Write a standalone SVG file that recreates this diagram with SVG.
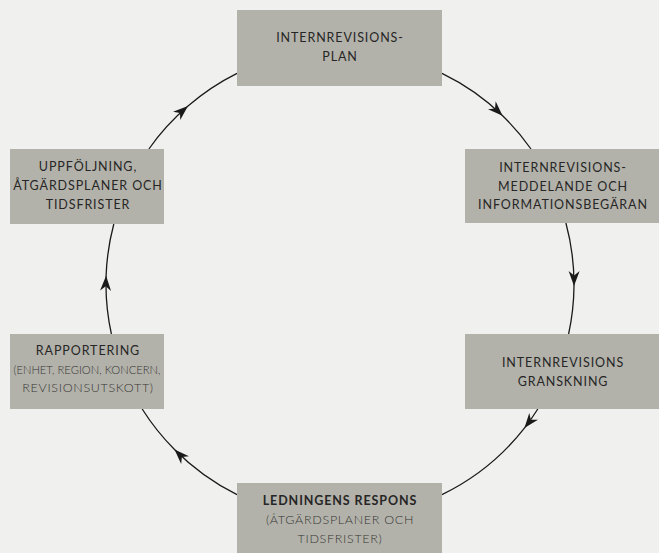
<svg xmlns="http://www.w3.org/2000/svg" width="659" height="553" viewBox="0 0 659 553">
<defs>
<marker id="arr" markerUnits="userSpaceOnUse" viewBox="-16 -7 17 14" refX="0" refY="0" markerWidth="17" markerHeight="14" orient="auto" overflow="visible">
<path d="M0,0 L-15,-5.5 L-10.5,0 L-15,5.5 Z" fill="#1a1a1a"/>
</marker>
<style>
.box{fill:#b3b2aa}
.t{font-family:Lato,"Noto Sans",sans-serif;font-size:12.5px;letter-spacing:0.9px;fill:#262626;text-anchor:middle}
.s{font-weight:300;fill:#363636;letter-spacing:0.7px}
.b{font-weight:700}
.c{fill:none;stroke:#1a1a1a;stroke-width:1.3;marker-mid:url(#arr)}
</style>
</defs>
<rect width="659" height="553" fill="#f0f0ee"/>
<g id="connectors">
<path class="c" d="M442,73.4 A234,234 0 0 1 502.6,115.7 A234,234 0 0 1 531,149"/>
<path class="c" d="M565.9,223 A234,234 0 0 1 574,286 A234,234 0 0 1 568.6,334"/>
<path class="c" d="M537.8,409 A234,234 0 0 1 524.4,428.1 A234,234 0 0 1 442,494.6"/>
<path class="c" d="M237,494.6 A234,234 0 0 1 174.5,449.5 A234,234 0 0 1 142.2,409"/>
<path class="c" d="M111.4,334 A234,234 0 0 1 106.1,275.8 A234,234 0 0 1 113.8,224"/>
<path class="c" d="M148.9,149 A234,234 0 0 1 188,106.1 A234,234 0 0 1 237,73.4"/>
</g>
<g id="n1">
<rect class="box" x="237" y="10" width="205" height="76"/>
<text class="t" x="340" y="42">INTERNREVISIONS-</text>
<text class="t" x="340" y="61">PLAN</text>
</g>
<g id="n2">
<rect class="box" x="465" y="149" width="194" height="74"/>
<text class="t" x="563" y="172">INTERNREVISIONS-</text>
<text class="t" x="563" y="190.5">MEDDELANDE OCH</text>
<text class="t" x="563" y="209">INFORMATIONSBEGÄRAN</text>
</g>
<g id="n3">
<rect class="box" x="465" y="334" width="194" height="75"/>
<text class="t" x="563" y="367">INTERNREVISIONS</text>
<text class="t" x="563" y="385.5">GRANSKNING</text>
</g>
<g id="n4">
<rect class="box" x="237" y="483" width="205" height="70"/>
<text class="t b" x="340" y="505">LEDNINGENS RESPONS</text>
<text class="t s" x="340" y="524">(ÅTGÄRDSPLANER OCH</text>
<text class="t s" x="340" y="543">TIDSFRISTER)</text>
</g>
<g id="n5">
<rect class="box" x="10" y="334" width="154" height="75"/>
<text class="t" x="88" y="355">RAPPORTERING</text>
<text class="t s" x="87" y="374" style="font-size:12px;letter-spacing:0" textLength="147" lengthAdjust="spacingAndGlyphs">(ENHET, REGION, KONCERN,</text>
<text class="t s" x="88" y="392">REVISIONSUTSKOTT)</text>
</g>
<g id="n6">
<rect class="box" x="10" y="149" width="154" height="75"/>
<text class="t" x="88" y="171">UPPFÖLJNING,</text>
<text class="t" x="88" y="190">ÅTGÄRDSPLANER OCH</text>
<text class="t" x="88" y="209">TIDSFRISTER</text>
</g>
</svg>
